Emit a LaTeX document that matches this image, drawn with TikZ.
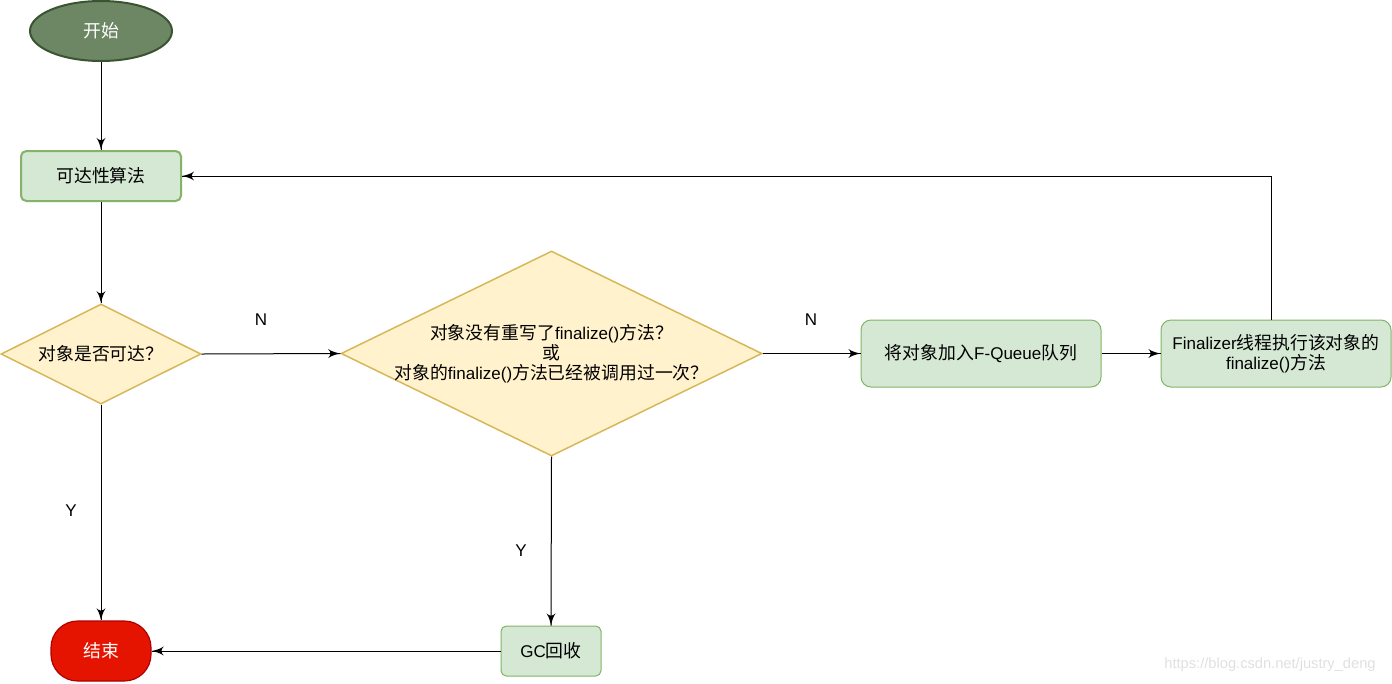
\documentclass[tikz,border=0pt]{standalone}
\usepackage{fontspec}
\usepackage{tikz}
\setmainfont{Liberation Sans}
\newfontfamily\cjk[Scale=1.05]{Noto Sans CJK SC}
\newcommand{\zh}[1]{{\cjk #1}}
\usetikzlibrary{arrows}
\usetikzlibrary{decorations.markings}
\usetikzlibrary{shapes.geometric}
\definecolor{startfill}{HTML}{6D8764}
\definecolor{startline}{HTML}{3A5431}
\definecolor{boxfill}{HTML}{D5E8D4}
\definecolor{boxline}{HTML}{82B366}
\definecolor{askfill}{HTML}{FFF2CC}
\definecolor{askline}{HTML}{D6B656}
\definecolor{endfill}{HTML}{E51400}
\definecolor{endline}{HTML}{B20000}
\tikzset{->/.style = {decoration={markings,
                                  mark=at position 1 with {\arrow[scale=1.8]{latex'}}},
                      postaction={decorate}}}
\tikzset{flstart/.style={ellipse, draw=startline, fill=startfill, line width=1.5pt, text=white,
                         inner sep=0, minimum width=106.5pt, minimum height=45pt}}
\tikzset{flend/.style={rectangle, rounded corners=20pt, draw=endline, fill=endfill, line width=0.9pt,
                       text=white, inner sep=0, minimum width=75pt, minimum height=45pt}}
\tikzset{flbox/.style={rectangle, draw=boxline, fill=boxfill, line width=0.75pt, inner sep=0,
                       align=center}}
\tikzset{flask/.style={diamond, draw=askline, fill=askfill, line width=1.1pt, inner sep=0,
                       aspect=2.05, align=center}}
\tikzset{fllabel/.style={inner sep=1pt}}

\begin{document}
\begin{tikzpicture}[x=0.75pt, y=-0.75pt, font=\fontsize{12.75}{15}\selectfont, line width=0.75pt]
    \useasboundingbox (0,0) rectangle (1392,683);

    \node [flstart] (1) at (101, 31) {\zh{开始}};
    \node [flbox, rounded corners=4pt, line width=1.5pt, minimum width=120pt, minimum height=37.5pt]
        (2) at (101, 176) {\zh{可达性算法}};
    \node [flask, minimum width=150pt, minimum height=75pt] (3) at (101, 354) {\zh{对象是否可达？}};
    \node [flask, inner sep=-5pt, minimum width=315.75pt, minimum height=153.75pt] (4) at (551.5, 353.5)
        {\zh{对象没有重写了}finalize()\zh{方法？}\\\zh{或}\\\zh{对象的}finalize()\zh{方法已经被调用过一次？}};
    \node [flbox, rounded corners=7.5pt, minimum width=180pt, minimum height=50.25pt]
        (5) at (981, 353.5) {\zh{将对象加入}F-Queue\zh{队列}};
    \node [flbox, rounded corners=7.5pt, minimum width=172.5pt, minimum height=50.25pt]
        (6) at (1276, 353.5) {Finalizer\zh{线程执行该对象的}\\finalize()\zh{方法}};
    \node [flend] (7) at (101, 651) {\zh{结束}};
    \node [flbox, rounded corners=4pt, minimum width=75pt, minimum height=37.5pt]
        (8) at (551, 651) {GC\zh{回收}};

    \node [fllabel] (n1) at (261, 320) {N};
    \node [fllabel] (n2) at (811, 320) {N};
    \node [fllabel] (y1) at (71, 511) {Y};
    \node [fllabel] (y2) at (521, 551) {Y};
    \node [fllabel, text=black!12, font=\fontsize{11}{13}\selectfont] (mark) at (1270, 665)
        {https://blog.csdn.net/justry\_deng};

    \draw [->] (1) -- (2);
    \draw [->] (2) -- (3);
    \draw [->] (3.east) -- (4.west);
    \draw [->] (4.east) -- (5.west);
    \draw [->] (5.east) -- (6.west);
    \draw [->] ([xshift=-3.75pt]6.north) |- (2.east);
    \draw [->] (3.south) -- (7.north);
    \draw [->] (4.south) -- (8.north);
    \draw [->] (8.west) -- (7.east);
  \end{tikzpicture}
\end{document}
